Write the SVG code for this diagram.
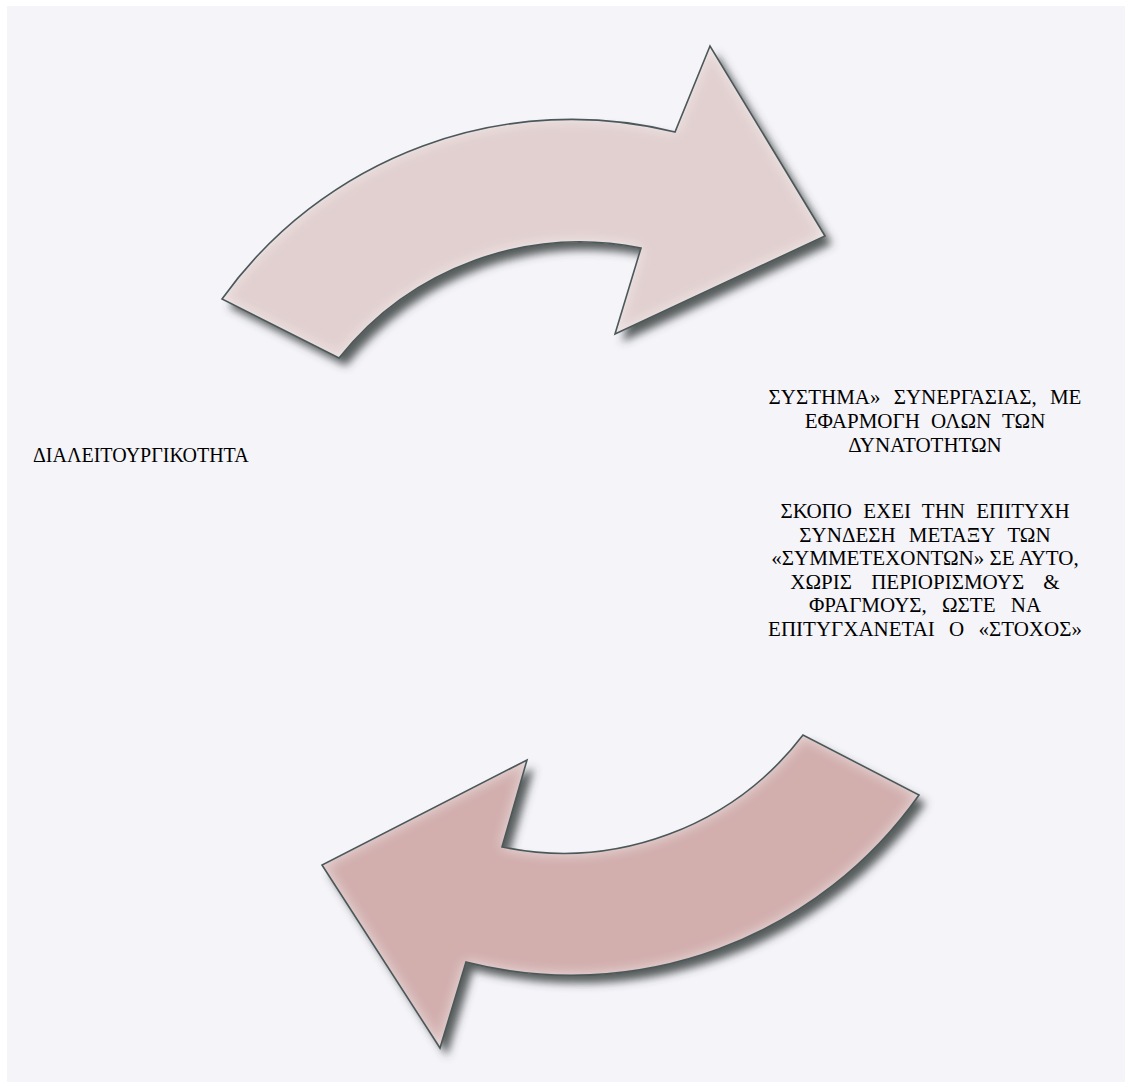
<svg xmlns="http://www.w3.org/2000/svg" width="1125" height="1082" viewBox="0 0 1125 1082">
<defs>
<filter id="shadow" x="-10%" y="-10%" width="130%" height="135%">
<feGaussianBlur in="SourceAlpha" stdDeviation="4" result="b"/>
<feOffset in="b" dx="7" dy="8" result="o"/>
<feFlood flood-color="#3c4242" flood-opacity="0.85"/>
<feComposite in2="o" operator="in" result="s"/>
<feGaussianBlur in="SourceAlpha" stdDeviation="7" result="ib"/>
<feComposite in="SourceAlpha" in2="ib" operator="out" result="ring"/>
<feFlood flood-color="#ffffff" flood-opacity="0.55"/>
<feComposite in2="ring" operator="in" result="glow"/>
<feMerge><feMergeNode in="s"/><feMergeNode in="SourceGraphic"/><feMergeNode in="glow"/></feMerge>
</filter>
<path id="topArrow" d="M222,299 A430,430 0 0 1 675,132 L710,46 L825,236 L615,334 L641,248 A308,308 0 0 0 339,358 Z"/>
<path id="bottomArrow" d="M919,795 A425,425 0 0 1 466,962 L440,1048 L322,865 L527,760 L502,847 A302,302 0 0 0 803,735 Z"/>
</defs>
<rect x="0" y="0" width="1125" height="1082" fill="#ffffff"/>
<rect x="7" y="6" width="1118" height="1076" fill="#f5f4f9"/>
<g id="arrow-top">
<use href="#topArrow" filter="url(#shadow)" fill="#e2d0d0"/>
<use href="#topArrow" fill="none" stroke="#4b5859" stroke-width="1.6"/>
</g>
<g id="arrow-bottom">
<use href="#bottomArrow" filter="url(#shadow)" fill="#d2aead"/>
<use href="#bottomArrow" fill="none" stroke="#4b5859" stroke-width="1.6"/>
</g>
<g id="connectors"></g>
<g id="label-left" font-family="Times New Roman" fill="#000">
<text x="33" y="462" font-size="20" font-family="Times New Roman">ΔΙΑΛΕΙΤΟΥΡΓΙΚΟΤΗΤΑ</text>
</g>
<g id="label-right" font-family="Times New Roman" font-size="21" text-anchor="middle" fill="#000">
<text x="925" y="404" word-spacing="8" font-family="Times New Roman">ΣΥΣΤΗΜΑ» ΣΥΝΕΡΓΑΣΙΑΣ, ΜΕ</text>
<text x="925" y="428" word-spacing="6" font-family="Times New Roman">ΕΦΑΡΜΟΓΗ ΟΛΩΝ ΤΩΝ</text>
<text x="925" y="452" font-family="Times New Roman">ΔΥΝΑΤΟΤΗΤΩΝ</text>
<text x="925" y="518" word-spacing="6" font-family="Times New Roman">ΣΚΟΠΟ ΕΧΕΙ ΤΗΝ ΕΠΙΤΥΧΗ</text>
<text x="925" y="541.5" word-spacing="8" font-family="Times New Roman">ΣΥΝΔΕΣΗ ΜΕΤΑΞΥ ΤΩΝ</text>
<text x="925" y="565" font-family="Times New Roman">«ΣΥΜΜΕΤΕΧΟΝΤΩΝ» ΣΕ ΑΥΤΟ,</text>
<text x="925" y="588.5" word-spacing="14" font-family="Times New Roman">ΧΩΡΙΣ ΠΕΡΙΟΡΙΣΜΟΥΣ &amp;</text>
<text x="925" y="612" word-spacing="10" font-family="Times New Roman">ΦΡΑΓΜΟΥΣ, ΩΣΤΕ ΝΑ</text>
<text x="925" y="635.5" word-spacing="9" font-family="Times New Roman">ΕΠΙΤΥΓΧΑΝΕΤΑΙ Ο «ΣΤΟΧΟΣ»</text>
</g>
</svg>
